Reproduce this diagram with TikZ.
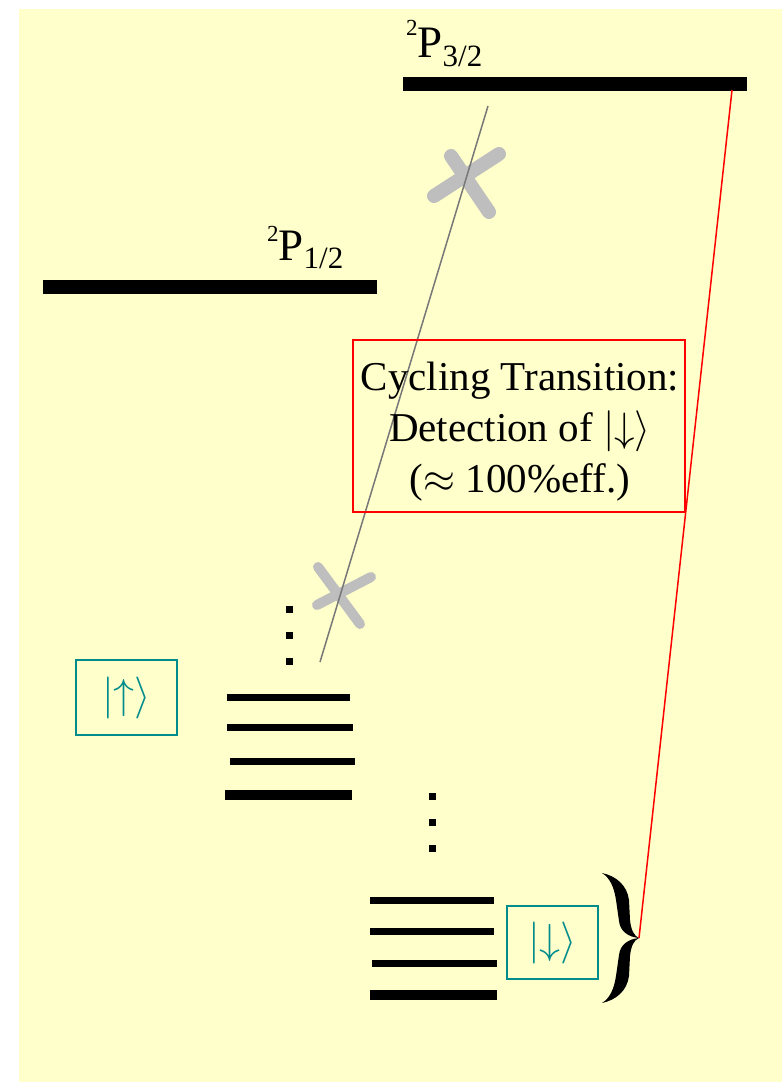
\RequirePackage{fix-cm}
\documentclass[tikz,border=0pt]{standalone}
\usepackage{fontspec}
\setmainfont{Liberation Serif}
\usepackage{xcolor}
\usepackage{tikz}
\usetikzlibrary{positioning,calc}
\definecolor{paper}{HTML}{FFFFCC}
\definecolor{tealket}{RGB}{0,140,140}
\definecolor{crossgray}{RGB}{190,190,190}
\definecolor{probegray}{RGB}{120,120,120}

\begin{document}
\begin{tikzpicture}[
    x=1pt, y=-1pt,
    level/.style={line width=14pt},
    sublevel/.style={line width=7pt},
    ket/.style={rectangle, draw=tealket, line width=1.5pt, text=tealket, minimum width=101pt, minimum height=75pt, inner sep=0pt, font=\fontsize{42}{42}\selectfont},
    dotsq/.style={rectangle, fill=black, minimum size=7pt, inner sep=0pt},
    cross/.style={crossgray, line width=14pt, line cap=round},
    term/.style={anchor=base west, inner sep=0pt, font=\fontsize{45}{45}\selectfont},
    probe/.style={probegray, line width=1.5pt},
    link/.style={red, line width=1.5pt}
]
\useasboundingbox (0,0) rectangle (782,1083);
\fill[white] (0,0) rectangle (782,1083);
\fill[paper] (19,9) rectangle (782,1082);

% P levels
\draw[level] (43,287) -- (377,287);
\draw[level] (403,84) -- (747,84);
\node[term] (p12) at (267,260) {\raisebox{19pt}{\fontsize{23}{23}\selectfont 2}P\raisebox{-8pt}{\fontsize{31}{31}\selectfont 1/2}};
\node[term] (p32) at (406,58) {\raisebox{22pt}{\fontsize{23}{23}\selectfont 2}P\raisebox{-9pt}{\fontsize{31}{31}\selectfont 3/2}};
\coordinate (p32r) at (732,90);

% blocked transition
\draw[cross] (434,196) -- (499,154);
\draw[cross] (451,156) -- (489,212);
\draw[cross, line width=10pt] (318,567) -- (360,624);
\draw[cross, line width=10pt] (317,605) -- (371,577);
\coordinate (g1) at (488,106);
\coordinate (g2) at (320,662);
\draw[probe] (g1) -- (g2);

% ground state manifolds
\foreach \y [count=\i] in {609,635,661}
    \node[dotsq] (ua\i) at (289,\y) {};
\foreach \y [count=\i] in {796,822,848}
    \node[dotsq] (da\i) at (432,\y) {};
\draw[sublevel] (227,697) -- (350,697);
\draw[sublevel] (227,727) -- (353,727);
\draw[sublevel] (230,761) -- (355,761);
\draw[sublevel, line width=10pt] (225,795) -- (352,795);
\draw[sublevel] (370,900) -- (494,900);
\draw[sublevel] (370,931) -- (494,931);
\draw[sublevel] (372,963) -- (497,963);
\draw[sublevel, line width=10pt] (370,995) -- (497,995);

\node[ket] (up) at (126.5,697.5) {$|{\uparrow}\rangle$};
\node[ket, minimum width=91pt, minimum height=73pt] (down) at (552.5,942.5) {$|{\downarrow}\rangle$};

% brace
\coordinate (tip) at (639,938);
\fill (602,873) .. controls (616,876) and (627,885) .. (629,900) -- (630,920)
    .. controls (631,930) and (634,936) .. (tip)
    .. controls (628,937) and (620,931) .. (619,921) -- (616,900)
    .. controls (614,887) and (610,878) .. (602,873) -- cycle;
\fill (602,1003) .. controls (616,1000) and (627,991) .. (629,976) -- (630,956)
    .. controls (631,946) and (634,940) .. (tip)
    .. controls (628,939) and (620,945) .. (619,955) -- (616,976)
    .. controls (614,989) and (610,998) .. (602,1003) -- cycle;

% cycling transition
\node[draw=red, line width=1.5pt, minimum width=332pt, minimum height=172pt] (cycbox) at (519,426) {};
\node[align=center, inner sep=0pt, font=\fontsize{41}{51}\selectfont] (cyctext) at (520,432)
    {Cycling Transition:\\ Detection of $|{\downarrow}\rangle$\\ ($\approx$ 100\%eff.)};
\draw[link] (p32r) -- (tip);
\end{tikzpicture}
\end{document}
